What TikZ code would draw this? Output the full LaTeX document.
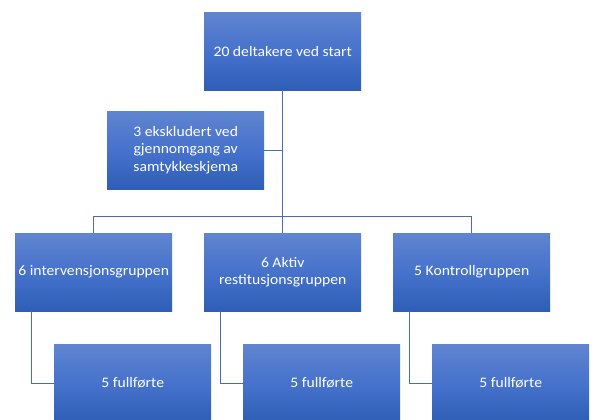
\documentclass[tikz,border=0pt]{standalone}
\usepackage{fontspec}
\setmainfont[FakeStretch=1.08]{Carlito}
\definecolor{boxtop}{RGB}{96,133,208}
\definecolor{boxmid}{RGB}{70,114,204}
\definecolor{boxbot}{RGB}{46,94,182}
\definecolor{conncol}{RGB}{74,108,176}
\tikzset{
  stepbox/.style={rectangle, anchor=north west, minimum width=157bp, minimum height=78bp,
    inner sep=0pt, top color=boxtop, bottom color=boxbot, middle color=boxmid,
    text=white, align=center, font=\fontsize{14.5bp}{17.8bp}\selectfont},
  conn/.style={draw=conncol, line width=1.3bp}
}
\begin{document}
\begin{tikzpicture}[x=1bp,y=-1bp]
\useasboundingbox (0,0) rectangle (596,419);
\clip (0,0) rectangle (596,419);
\node[stepbox] (top) at (204,12) {20 deltakere ved start};
\node[stepbox] (excl) at (107,111) {3 ekskludert ved\\gjennomgang av\\samtykkeskjema};
\node[stepbox] (g1) at (15,233) {6 intervensjonsgruppen};
\node[stepbox] (g2) at (204,233) {6 Aktiv\\restitusjonsgruppen};
\node[stepbox] (g3) at (393,233) {5 Kontrollgruppen};
\node[stepbox] (f1) at (54,344) {5 fullførte};
\node[stepbox] (f2) at (243,344) {5 fullførte};
\node[stepbox] (f3) at (432,344) {5 fullførte};
\coordinate (bar) at (0,216.7);
\draw[conn] (top.south) -- (g2.north);
\draw[conn] (excl.east) -- (excl.east -| top.south);
\draw[conn] (g1.north) -- (g1.north |- bar) -| (g3.north);
\draw[conn] ([xshift=16.5bp]g1.south west) |- (f1.west);
\draw[conn] ([xshift=16.5bp]g2.south west) |- (f2.west);
\draw[conn] ([xshift=16.5bp]g3.south west) |- (f3.west);
\end{tikzpicture}
\end{document}
